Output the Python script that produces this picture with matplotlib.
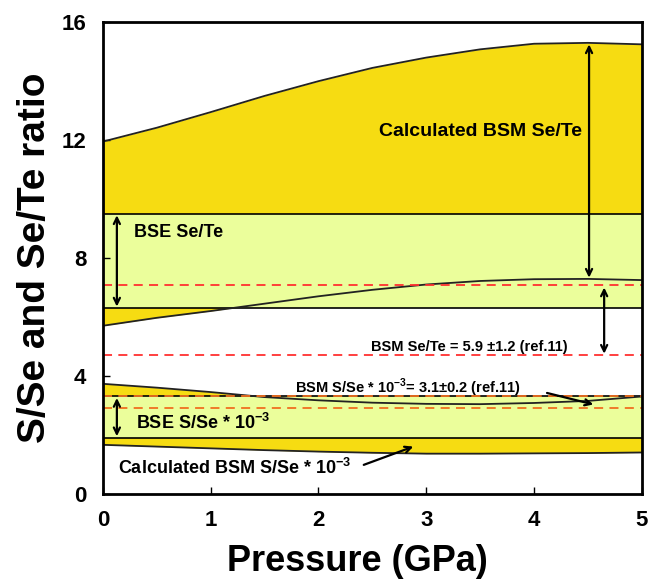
import matplotlib.pyplot as plt
import numpy as np

plt.rcParams['font.family'] = ['Liberation Sans', 'DejaVu Sans']
plt.rcParams['mathtext.fontset'] = 'custom'
plt.rcParams['mathtext.rm'] = 'Liberation Sans'
plt.rcParams['mathtext.bf'] = 'Liberation Sans:bold'

# pressure (GPa)
pressure = [0, 0.5, 1, 1.5, 2, 2.5, 3, 3.5, 4, 4.5, 5]

# calculated BSM Se/Te range
se_te_upper = [11.95, 12.42, 12.95, 13.5, 14.0, 14.45, 14.8, 15.08, 15.27, 15.3, 15.25]
se_te_lower = [5.7, 5.97, 6.2, 6.45, 6.7, 6.92, 7.1, 7.22, 7.28, 7.29, 7.25]

# calculated BSM S/Se * 1e-3 range
s_se_upper = [3.73, 3.6, 3.45, 3.28, 3.17, 3.09, 3.05, 3.04, 3.08, 3.15, 3.3]
s_se_lower = [1.66, 1.6, 1.54, 1.48, 1.43, 1.39, 1.36, 1.36, 1.37, 1.38, 1.4]

# BSE bands
bse_se_te = (6.3, 9.5)
bse_s_se = (1.9, 3.3)

# BSM reference values (ref.11)
bsm_se_te, bsm_se_te_err = 5.9, 1.2
bsm_s_se, bsm_s_se_err = 3.1, 0.2

GOLD = '#F6DC12'
LIGHT = '#EBFE9B'

fig = plt.figure(figsize=(6.51, 5.85), dpi=100)
ax = fig.add_axes([0.158, 0.156, 0.828, 0.806])

# calculated ranges
ax.fill_between(pressure, se_te_lower, se_te_upper, color=GOLD, lw=0)
ax.fill_between(pressure, s_se_lower, s_se_upper, color=GOLD, lw=0)

# BSE bands
for lo, hi in (bse_se_te, bse_s_se):
    ax.fill_between([0, 5], [lo, lo], [hi, hi], color=LIGHT, lw=0)
    ax.axhline(lo, color='black', lw=1.2)
    ax.axhline(hi, color='black', lw=1.2)

for curve in (se_te_upper, se_te_lower, s_se_upper, s_se_lower):
    ax.plot(pressure, curve, color='#222222', lw=1.3)

# reference lines
dash = (0, (5, 3.5))
ax.axhline(bsm_se_te + bsm_se_te_err, color='#FF3030', lw=1.3, ls=dash)
ax.axhline(bsm_se_te - bsm_se_te_err, color='#FF3030', lw=1.3, ls=dash)
ax.axhline(bsm_s_se + bsm_s_se_err, color='#F07020', lw=1.3, ls=dash)
ax.axhline(bsm_s_se - bsm_s_se_err, color='#F07020', lw=1.3, ls=dash)

# arrows
dbl = dict(arrowstyle='<->,head_length=0.45,head_width=0.22', color='black', lw=1.6,
           shrinkA=0, shrinkB=0)
one = dict(arrowstyle='->,head_length=0.45,head_width=0.22', color='black', lw=1.6,
           shrinkA=0, shrinkB=0)
ax.annotate('', xy=(4.51, 15.25), xytext=(4.51, 7.33), arrowprops=dbl)
ax.annotate('', xy=(0.13, 9.45), xytext=(0.13, 6.35), arrowprops=dbl)
ax.annotate('', xy=(4.65, 7.0), xytext=(4.65, 4.75), arrowprops=dbl)
ax.annotate('', xy=(0.13, 3.25), xytext=(0.13, 1.95), arrowprops=dbl)
ax.annotate('', xy=(4.55, 3.03), xytext=(4.12, 3.42), arrowprops=one)
ax.annotate('', xy=(2.88, 1.6), xytext=(2.42, 0.98), arrowprops=one)

# labels
ax.text(3.5, 12.3, 'Calculated BSM Se/Te', fontsize=14, fontweight='bold',
        ha='center', va='center')
ax.text(0.29, 8.85, 'BSE Se/Te', fontsize=13, fontweight='bold', va='center')
ax.text(2.49, 4.98, 'BSM Se/Te = 5.9 \u00b11.2 (ref.11)', fontsize=10.5, fontweight='bold',
        va='center')
ax.text(1.78, 3.6, 'BSM S/Se * 10$^{\\mathbf{-3}}$= 3.1\u00b10.2 (ref.11)', fontsize=10.5,
        fontweight='bold', va='center')
ax.text(0.31, 2.4, 'BSE S/Se * 10$^{\\mathbf{-3}}$', fontsize=13, fontweight='bold',
        va='center')
ax.text(0.14, 0.88, 'Calculated BSM S/Se * 10$^{\\mathbf{-3}}$', fontsize=13,
        fontweight='bold', va='center')

ax.set_xlim(0, 5)
ax.set_ylim(0, 16)
ax.set_xticks([0, 1, 2, 3, 4, 5])
ax.set_yticks([0, 4, 8, 12, 16])
ax.tick_params(direction='in', length=5, width=1, pad=12, labelsize=16)
for lab in ax.get_xticklabels() + ax.get_yticklabels():
    lab.set_fontweight('bold')
for sp in ax.spines.values():
    sp.set_linewidth(2)

ax.set_xlabel('Pressure (GPa)', fontsize=26, fontweight='bold', labelpad=9)
ax.xaxis.label.set_x(0.472)
ax.set_ylabel('S/Se and Se/Te ratio', fontsize=28, fontweight='bold', labelpad=6)

fig.savefig('out.png', dpi=100)
